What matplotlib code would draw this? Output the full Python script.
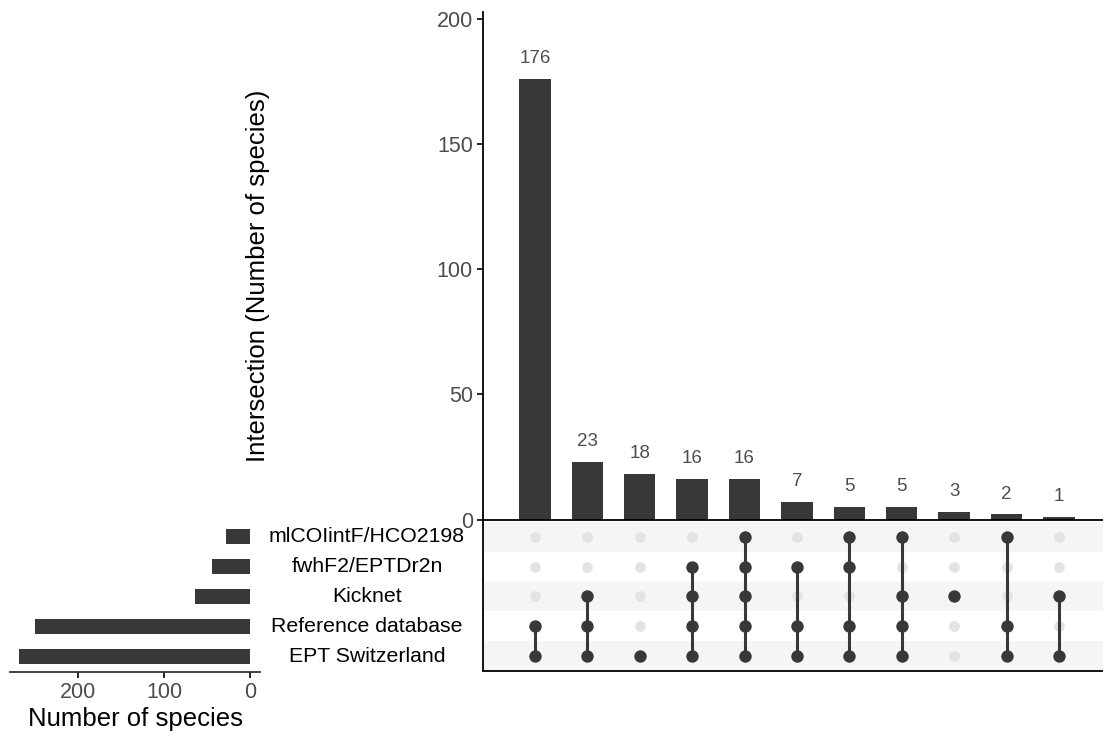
import matplotlib
matplotlib.use("Agg")
import matplotlib.pyplot as plt
import matplotlib.transforms as mtransforms

plt.rcParams['font.family'] = ['Liberation Sans', 'DejaVu Sans']

# Sets, listed bottom to top in the matrix
set_names = ["EPT Switzerland", "Reference database", "Kicknet",
             "fwhF2/EPTDr2n", "mlCOIintF/HCO2198"]
set_sizes = [269, 250, 64, 44, 28]

# Intersections, ordered by size
intersection_sizes = [176, 23, 18, 16, 16, 7, 5, 5, 3, 2, 1]
intersection_members = [
    ["EPT Switzerland", "Reference database"],
    ["EPT Switzerland", "Reference database", "Kicknet"],
    ["EPT Switzerland"],
    ["EPT Switzerland", "Reference database", "Kicknet", "fwhF2/EPTDr2n"],
    ["EPT Switzerland", "Reference database", "Kicknet", "fwhF2/EPTDr2n", "mlCOIintF/HCO2198"],
    ["EPT Switzerland", "Reference database", "fwhF2/EPTDr2n"],
    ["EPT Switzerland", "Reference database", "fwhF2/EPTDr2n", "mlCOIintF/HCO2198"],
    ["EPT Switzerland", "Reference database", "Kicknet", "mlCOIintF/HCO2198"],
    ["Kicknet"],
    ["EPT Switzerland", "Reference database", "mlCOIintF/HCO2198"],
    ["EPT Switzerland", "Kicknet"],
]

bar_color = "#383838"
tick_color = "#4d4d4d"
W, H = 1103, 736
fig = plt.figure(figsize=(W / 100, H / 100), dpi=100)


def fx(px):
    return px / W


def fy(py):
    return 1 - py / H


# ---- intersection bar chart ----
main_left, main_top, main_bottom = 482.5, 12, 519.5
ax_bar = fig.add_axes([fx(main_left), fy(main_bottom), 1 - fx(main_left),
                       (main_bottom - main_top) / H])
xs = list(range(1, len(intersection_sizes) + 1))
ax_bar.bar(xs, intersection_sizes, width=0.6, color=bar_color)
for x, v in zip(xs, intersection_sizes):
    ax_bar.annotate(str(v), (x, v), xytext=(0, 11.5), textcoords="offset points",
                    ha="center", va="baseline", fontsize=13.5, color=tick_color)
ax_bar.set_xlim(0, 11.84)
ax_bar.set_ylim(0, 202.8)
ax_bar.set_yticks([0, 50, 100, 150, 200])
ax_bar.tick_params(axis="y", labelsize=15.5, labelcolor=tick_color,
                   length=4, width=1.2, pad=3)
ax_bar.set_xticks([])
for s in ["top", "right", "bottom"]:
    ax_bar.spines[s].set_visible(False)
ax_bar.spines["left"].set_linewidth(1.3)
fig.text(fx(258), fy(276), "Intersection (Number of species)", rotation=90,
         ha="center", va="center", fontsize=18.5, color="black")

# ---- membership matrix ----
mat_top, mat_bottom = 519.5, 670.5
ax_mat = fig.add_axes([fx(main_left), fy(mat_bottom), 1 - fx(main_left),
                       (mat_bottom - mat_top) / H])
ax_mat.set_xlim(0, 11.84)
ax_mat.set_ylim(-0.47, 4.57)
for i in range(len(set_names)):
    if i % 2 == 0:
        ax_mat.axhspan(i - 0.5, i + 0.5, color="#f5f5f5", zorder=0, lw=0)
for x, members in zip(xs, intersection_members):
    active = [set_names.index(m) for m in members]
    inactive = [i for i in range(len(set_names)) if i not in active]
    ax_mat.scatter([x] * len(inactive), inactive, s=60, color="#e3e3e3",
                   zorder=1, lw=0)
    if len(active) > 1:
        ax_mat.plot([x, x], [min(active), max(active)], color=bar_color,
                    lw=2.2, zorder=2)
    ax_mat.scatter([x] * len(active), active, s=80, color=bar_color,
                   zorder=3, lw=0)
ax_mat.set_xticks([])
ax_mat.set_yticks([])
ax_mat.spines["right"].set_visible(False)
for s in ["left", "bottom", "top"]:
    ax_mat.spines[s].set_linewidth(1.3)
    ax_mat.spines[s].set_color("black")

# set names between the two panels
trans = mtransforms.blended_transform_factory(fig.transFigure, ax_mat.transData)
for i, name in enumerate(set_names):
    ax_mat.text(fx(367), i, name, transform=trans, ha="center", va="center",
                fontsize=15.3, color="black", clip_on=False)

# ---- set size bars ----
ss_left, ss_right = 10, 260
ax_set = fig.add_axes([fx(ss_left), fy(mat_bottom + 1.5), (ss_right - ss_left) / W,
                       (mat_bottom - mat_top) / H])
ax_set.barh(range(len(set_names)), set_sizes, height=0.5, color=bar_color)
ax_set.set_ylim(-0.52, 4.52)
ax_set.set_xlim(279, -11.6)
ax_set.set_xticks([200, 100, 0])
ax_set.set_yticks([])
ax_set.tick_params(axis="x", labelsize=15.5, labelcolor=tick_color,
                   length=4, width=1.2, pad=3)
for s in ["top", "right", "left"]:
    ax_set.spines[s].set_visible(False)
ax_set.spines["bottom"].set_linewidth(1.3)
ax_set.spines["bottom"].set_color("#333333")
ax_set.set_xlabel("Number of species", fontsize=18.5, color="black", labelpad=3)

fig.savefig("out.png", dpi=100)
